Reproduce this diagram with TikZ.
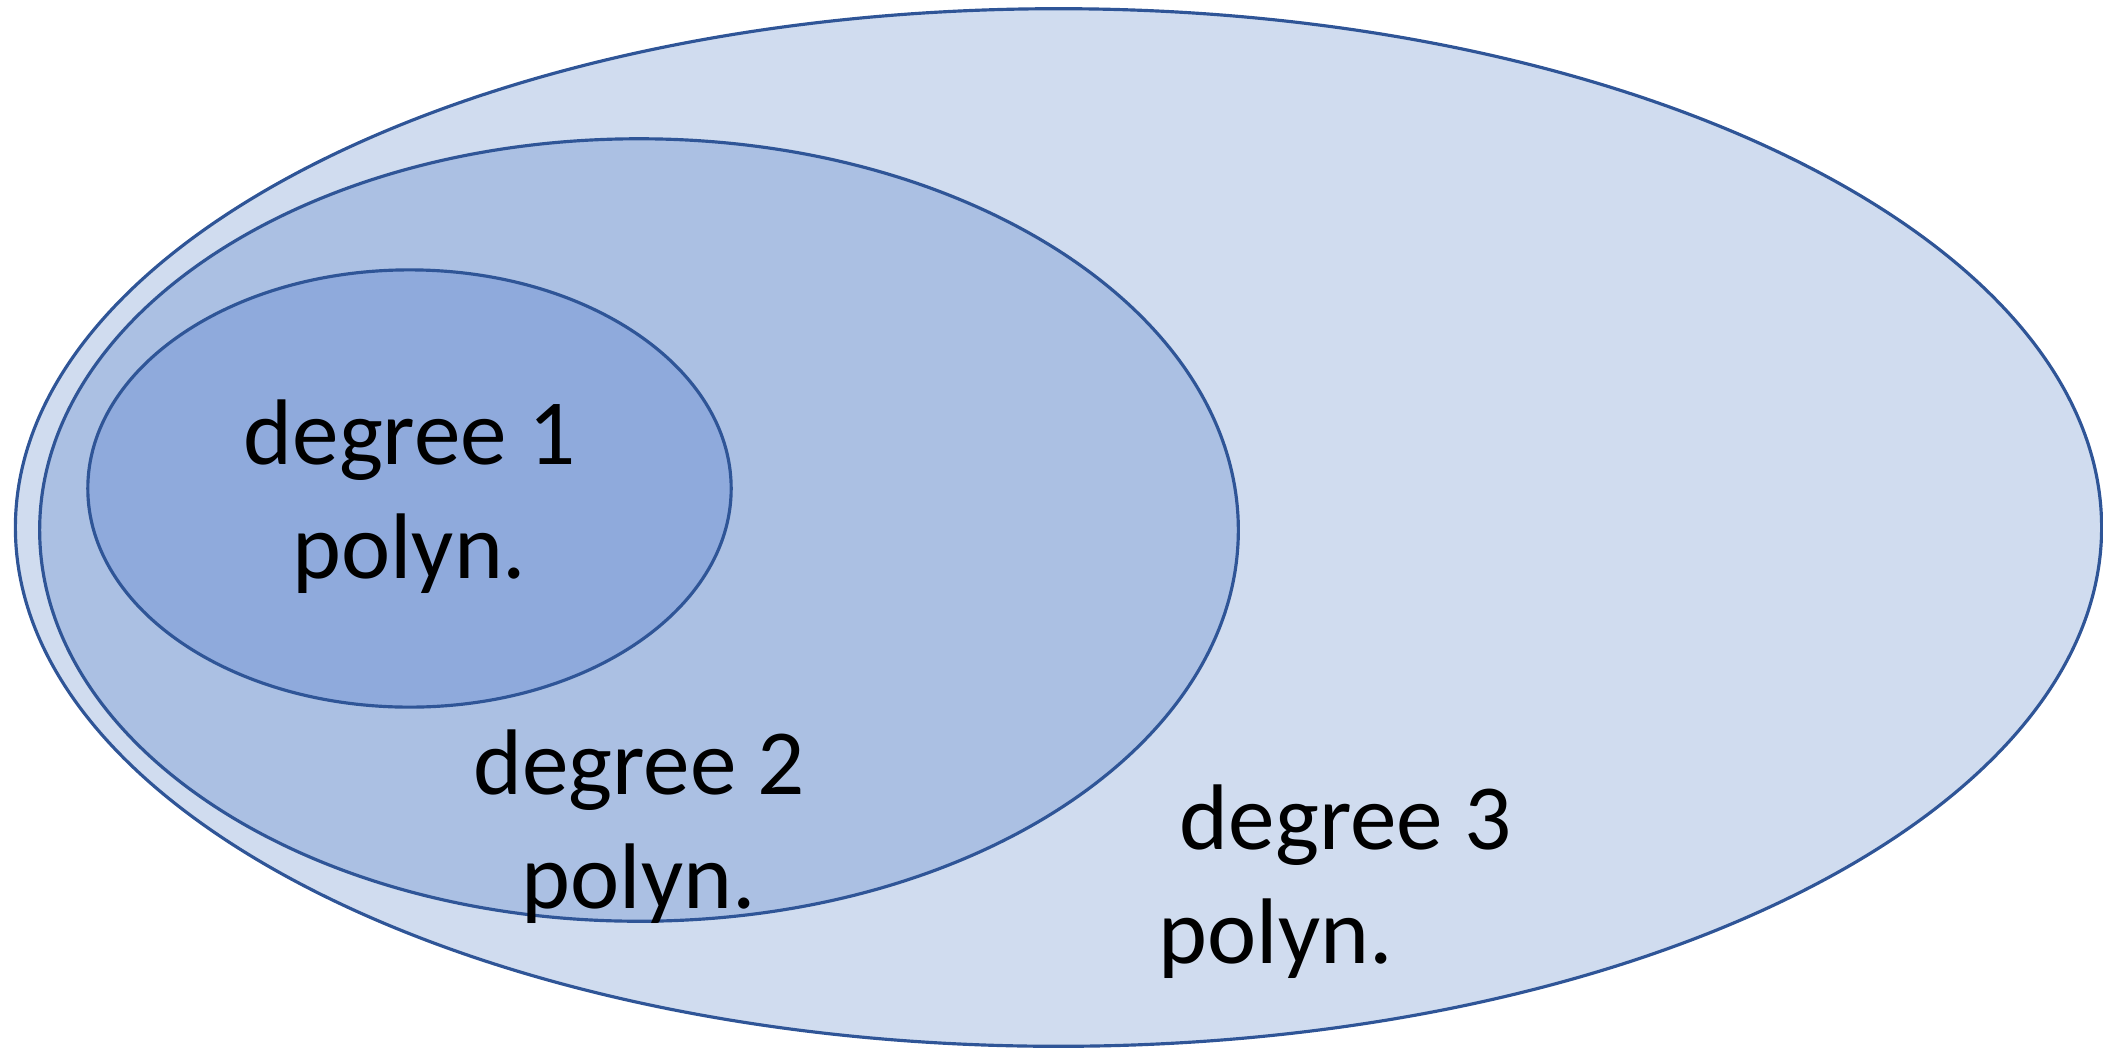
\documentclass[tikz,border=0pt]{standalone}
\usepackage{fontspec}
\setmainfont{Carlito}
\usetikzlibrary{shapes.geometric}
\definecolor{fillA}{RGB}{208,220,239}
\definecolor{fillB}{RGB}{171,192,227}
\definecolor{fillC}{RGB}{143,170,220}
\definecolor{edgeblue}{RGB}{47,85,151}
\tikzset{
  setell/.style={ellipse, draw=edgeblue, line width=0.9pt, inner sep=0pt, outer sep=0pt},
  lbl/.style={font=\fontsize{26.5}{32.4}\selectfont, inner sep=0pt, text=black}
}
\begin{document}
\begin{tikzpicture}[x=0.01cm, y=-0.01cm]
\useasboundingbox (0,0) rectangle (2103,1048);
\node[setell, fill=fillA, minimum width=20.85cm, minimum height=10.37cm] (outer) at (1058.5,527.5) {};
\node[setell, fill=fillB, minimum width=11.98cm, minimum height=7.82cm] (middle) at (639,530) {};
\node[setell, fill=fillC, minimum width=6.43cm, minimum height=4.37cm] (inner) at (409.5,488.5) {};
\node[lbl, align=center, anchor=base] (l1) at (409.5,578) {degree 1\\polyn.};
\node[lbl, align=center, anchor=base] (l2) at (639,908) {degree 2\\polyn.};
\node[lbl, align=left, anchor=base west] (l3) at (1158,963) {\ degree 3\\polyn.};
\end{tikzpicture}
\end{document}
